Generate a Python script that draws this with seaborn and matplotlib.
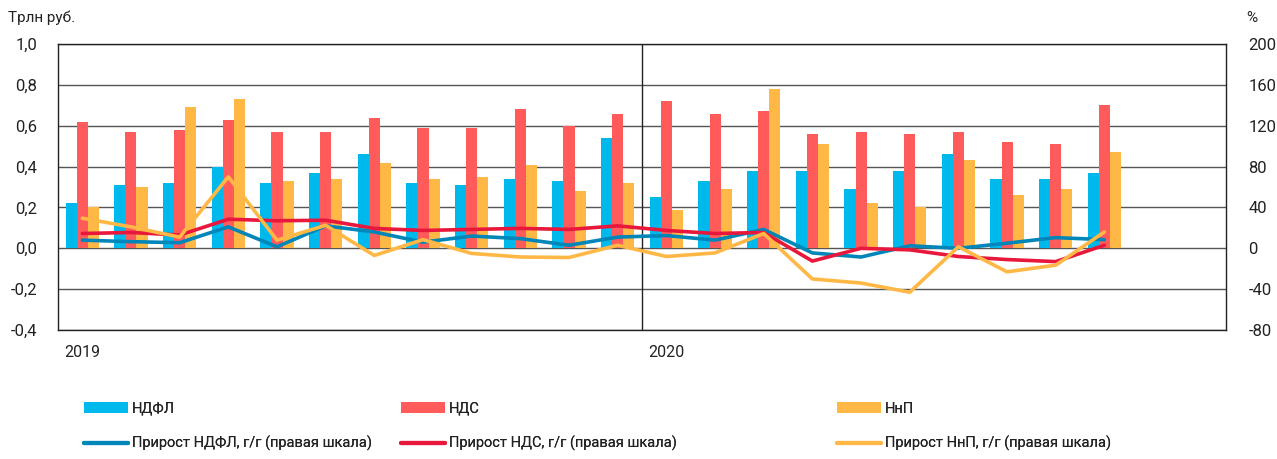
import numpy as np
import pandas as pd
import seaborn as sns
import matplotlib.pyplot as plt
from matplotlib.patches import Patch
from matplotlib.lines import Line2D
from matplotlib.transforms import blended_transform_factory

# months: 2019-01 .. 2020-12 (data ends in 2020-10)
months = [f"{y}-{m:02d}" for y in (2019, 2020) for m in range(1, 13)]

# tax revenues, trln rub (left scale)
ndfl = [0.22, 0.31, 0.32, 0.40, 0.32, 0.37, 0.46, 0.32, 0.31, 0.34, 0.33, 0.54,
        0.25, 0.33, 0.38, 0.38, 0.29, 0.38, 0.46, 0.34, 0.34, 0.37]
nds = [0.62, 0.57, 0.58, 0.63, 0.57, 0.57, 0.64, 0.59, 0.59, 0.68, 0.60, 0.66,
       0.72, 0.66, 0.67, 0.56, 0.57, 0.56, 0.57, 0.52, 0.51, 0.70]
nnp = [0.20, 0.30, 0.69, 0.73, 0.33, 0.34, 0.42, 0.34, 0.35, 0.41, 0.28, 0.32,
       0.19, 0.29, 0.78, 0.51, 0.22, 0.20, 0.43, 0.26, 0.29, 0.47]

# y/y growth, % (right scale)
ndfl_g = [8, 6.5, 5.5, 21, 1.5, 22, 16, 6, 12, 9.5, 3, 11,
          12.5, 8, 18.5, -4.5, -8.5, 2.5, 0, 5, 10.5, 8.5]
nds_g = [14.5, 15.5, 13, 28.5, 27, 27.5, 19.5, 17.5, 18.5, 19.5, 18.5, 22,
         17.5, 14.5, 15.5, -12.5, 0, -1.5, -8, -11, -13, 3]
nnp_g = [29.5, 21, 11, 70, 8, 22.5, -7, 8.5, -5, -8.5, -9, 3,
         -8, -4.5, 14.5, -30, -34, -43, 1.5, -23, -16.5, 16]

bar_names = ["НДФЛ", "НДС", "НнП"]
line_names = ["Прирост НДФЛ, г/г (правая шкала)",
              "Прирост НДС, г/г (правая шкала)",
              "Прирост НнП, г/г (правая шкала)"]
bar_colors = ["#00B9EC", "#FF5B5B", "#FFB845"]
line_colors = ["#0086B8", "#E8173C", "#FFB845"]

n = len(ndfl)
bars_df = pd.DataFrame({"month": months[:n], "НДФЛ": ndfl, "НДС": nds, "НнП": nnp})
bars_long = bars_df.melt(id_vars="month", var_name="tax", value_name="value")

growth_df = pd.DataFrame({"idx": np.arange(n), line_names[0]: ndfl_g,
                          line_names[1]: nds_g, line_names[2]: nnp_g})
growth_long = growth_df.melt(id_vars="idx", var_name="series", value_name="growth")

sns.set_style("white")
plt.rcParams["font.family"] = ["Roboto", "DejaVu Sans"]

fig = plt.figure(figsize=(12.77, 4.59), dpi=100)
ax = fig.add_axes([0.0454, 0.281, 0.9147, 0.623])

sns.barplot(data=bars_long, x="month", y="value", hue="tax", order=months,
            hue_order=bar_names, palette=bar_colors, width=0.68, saturation=1,
            linewidth=0, ax=ax, legend=False)

ax.set_xlim(-0.5, len(months) - 0.5)
ax.set_ylim(-0.4, 1.0)
yt = np.round(np.arange(-0.4, 1.01, 0.2), 1)
ax.set_yticks(yt)
ax.set_yticklabels([f"{v:.1f}".replace(".", ",") for v in yt], fontsize=12)
ax.set_xticks([])
ax.set_xlabel("")
ax.set_ylabel("")
ax.tick_params(axis="y", length=0, pad=15, colors="#222222")
for v in yt:
    ax.axhline(v, color="#555555", lw=1, zorder=0)
ax.axvline(11.5, color="#222222", lw=1)
for s in ax.spines.values():
    s.set_visible(True)
    s.set_color("#222222")
    s.set_linewidth(1)

ax2 = ax.twinx()
sns.lineplot(data=growth_long, x="idx", y="growth", hue="series",
             hue_order=line_names, palette=line_colors, lw=2.6, ax=ax2,
             legend=False)
ax2.set_ylim(-80, 200)
ax2.set_yticks(np.arange(-80, 201, 40))
ax2.set_yticklabels([str(v) for v in range(-80, 201, 40)], fontsize=12)
ax2.tick_params(axis="y", length=0, pad=16, colors="#222222")
ax2.set_ylabel("")
ax2.set_xlabel("")
for s in ax2.spines.values():
    s.set_visible(False)

tr = blended_transform_factory(ax.transData, ax.transAxes)
ax.text(-0.5 + 0.12, -0.077, "2019", transform=tr, ha="left", va="center",
        fontsize=11.5, color="#222222")
ax.text(11.5 + 0.12, -0.077, "2020", transform=tr, ha="left", va="center",
        fontsize=11.5, color="#222222")

fig.text(8 / 1277, 1 - 18 / 459, "Трлн руб.", ha="left", va="center",
         fontsize=11, color="#222222")
fig.text(1252 / 1277, 1 - 18 / 459, "%", ha="center", va="center",
         fontsize=11, color="#222222")

# one legend column per tax, placed like the reference
col_x = [84, 401, 837]
for i in range(3):
    hs = [Patch(facecolor=bar_colors[i], edgecolor="none"),
          Line2D([], [], color=line_colors[i], lw=3)]
    leg = fig.legend(hs, [bar_names[i], line_names[i]], loc="center left",
                     bbox_to_anchor=(col_x[i] / 1277, 1 - 426.5 / 459),
                     frameon=False, fontsize=10.5, handlelength=3.0,
                     handletextpad=0.3, labelspacing=1.4, borderpad=0,
                     borderaxespad=0)
    for t in leg.get_texts():
        t.set_color("#222222")
    fig.add_artist(leg)

fig.savefig("out.png", dpi=100)
